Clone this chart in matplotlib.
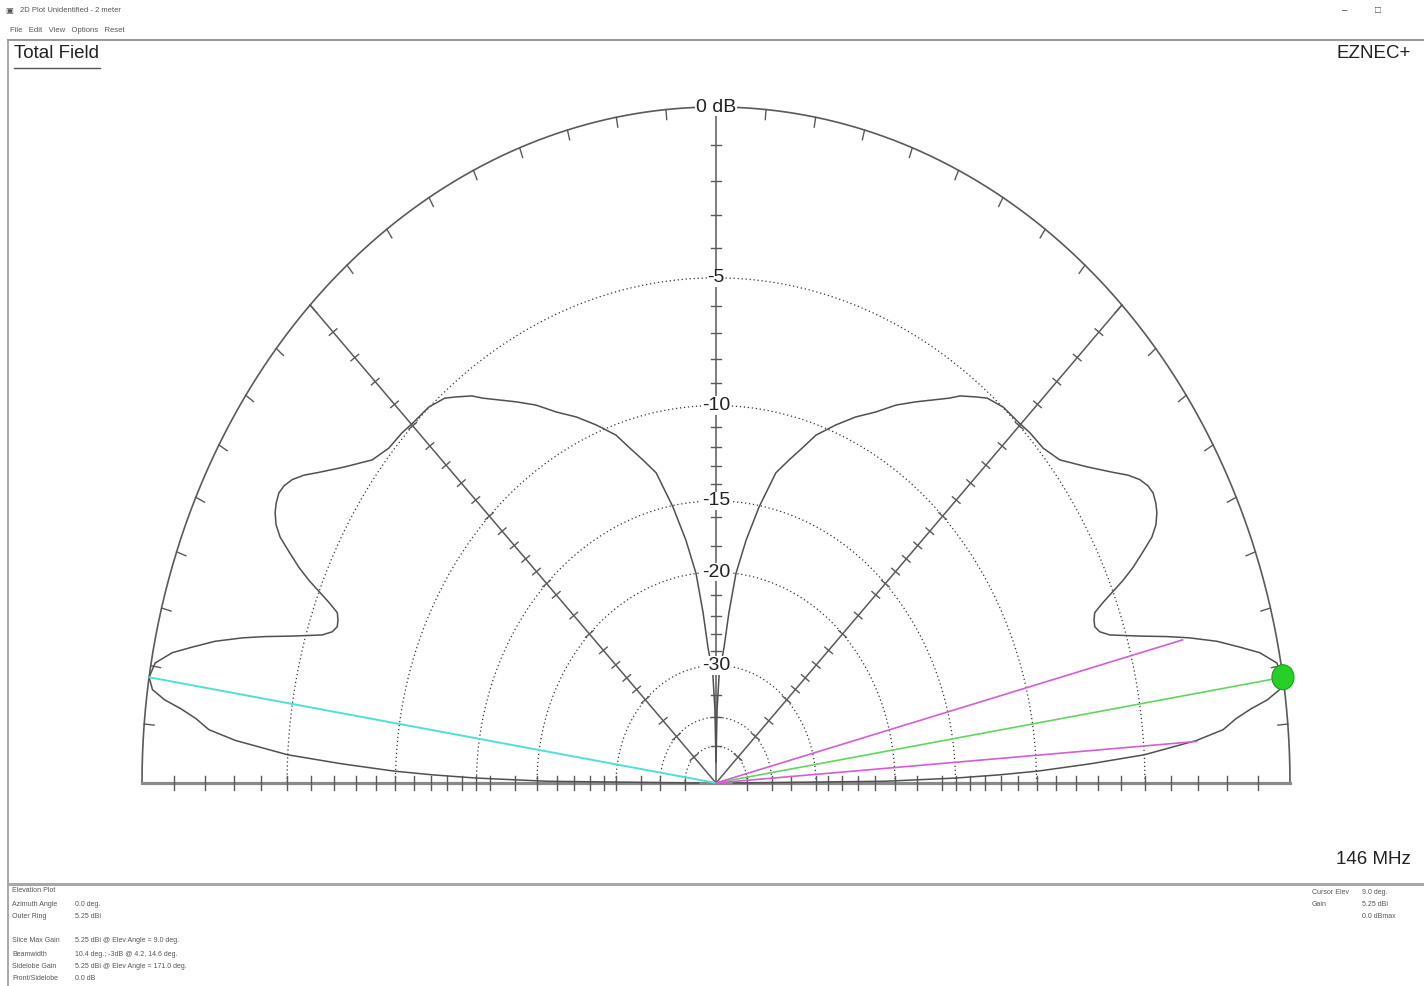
import numpy as np
import matplotlib.pyplot as plt
from matplotlib.patches import Ellipse

plt.rcParams['font.family'] = ['Liberation Sans', 'DejaVu Sans']

# elevation pattern, right half (0-90 deg); dB relative to outer ring (5.25 dBi)
elev_deg = [0.0, 0.5, 1.0, 1.4, 1.8, 2.5, 3.2, 4.3, 5.1, 6.0, 6.7, 7.3, 8.0,
            9.0, 10.3, 11.5, 12.4, 13.5, 14.6, 15.4, 16.4, 17.7, 18.5, 19.3,
            20.1, 20.9, 21.6, 22.9, 23.7, 24.7, 25.6, 26.5, 27.5, 28.4, 29.4,
            30.3, 31.3, 32.4, 33.6, 35.9, 38.6, 41.0, 43.4, 45.4, 48.0, 50.3,
            51.6, 53.4, 54.5, 58.3, 60.7, 63.1, 65.8, 68.5, 71.3, 73.0, 75.1,
            77.2, 79.6, 81.7, 83.6, 84.9, 86.0, 87.0, 88.0, 89.0, 90.0]
gain_db = [-60.0, -21.0, -15.0, -12.1, -9.9, -7.3, -5.0, -3.0, -2.06, -1.6,
           -1.1, -0.55, -0.15, 0.0, -0.12, -0.58, -1.15, -1.85, -2.75, -3.5,
           -4.49, -5.63, -6.0, -6.14, -6.09, -5.97, -5.52, -4.5, -3.97, -3.43,
           -2.95, -2.66, -2.47, -2.37, -2.31, -2.36, -2.51, -2.79, -3.19,
           -3.88, -4.57, -4.82, -4.86, -4.94, -4.98, -5.17, -5.43, -5.8, -6.14,
           -7.06, -7.63, -8.33, -8.95, -9.67, -10.47, -11.24, -12.09, -12.94,
           -15.1, -17.4, -20.0, -23.6, -27.5, -29.5, -31.0, -38.0, -60.0]

ring_db = [-5, -10, -15, -20, -30, -40, -50]
ring_label_db = [0, -5, -10, -15, -20, -30]
ring_labels = ['0 dB', '-5', '-10', '-15', '-20', '-30']
tick_db = list(range(-1, -16, -1)) + list(range(-16, -31, -2)) + [-35, -40, -50]

max_elev = 9.0
side_elev = 171.0
bw_elev = [4.2, 14.6]
bw_db = -3.0

info_left = [('Elevation Plot', ''),
             ('Azimuth Angle', '0.0 deg.'),
             ('Outer Ring', '5.25 dBi'),
             ('Slice Max Gain', '5.25 dBi @ Elev Angle = 9.0 deg.'),
             ('Beamwidth', '10.4 deg.; -3dB @ 4.2, 14.6 deg.'),
             ('Sidelobe Gain', '5.25 dBi @ Elev Angle = 171.0 deg.'),
             ('Front/Sidelobe', '0.0 dB')]
info_right = [('Cursor Elev', '9.0 deg.'), ('Gain', '5.25 dBi'), ('', '0.0 dBmax')]

# screen geometry (pixels) of the stretched plot
W, H = 1424, 986
CX, CY = 716, 783
RX, RY = 574, 676


def rr(db):
    # ARRL log scale: 0.89 per 2 dB
    return 0.89 ** (-np.asarray(db, dtype=float) / 2)


def xy(r, deg):
    t = np.radians(deg)
    return r * np.cos(t), r * np.sin(t)


def ftext(x, y, s, **kw):
    fig.text(x / W, 1 - y / H, s, **kw)


fig = plt.figure(figsize=(W / 100, H / 100), dpi=100)
ax = fig.add_axes([0, 0, 1, 1])
ax.set_xlim(-CX / RX, (W - CX) / RX)
ax.set_ylim((CY - H) / RY, CY / RY)
ax.axis('off')

grid_c = '#5a5a5a'
th = np.linspace(0, 180, 721)

# dotted rings
for d in ring_db:
    ax.plot(*xy(rr(d), th), color='#333333', lw=0.9, ls=(0, (1, 2.2)), zorder=1)

# outer ring and its 5 deg ticks
ax.plot(*xy(1.0, th), color=grid_c, lw=1.2, zorder=2)
for a in range(5, 180, 5):
    if a == 90:
        continue
    px, py = xy(1.0, a)
    k = 10 / np.hypot(RX * px, RY * py)
    ax.plot([px, px * (1 - k)], [py, py * (1 - k)], color=grid_c, lw=1.0, zorder=2)

# radial lines and baseline
for phi in [45, 90, 135]:
    ax.plot(*xy(np.array([0, 1.0]), phi), color=grid_c, lw=1.1, zorder=2)
ax.plot([-1, 1], [0, 0], color='#8a8a8a', lw=2.3, zorder=2)

for phi in [0, 45, 90, 135, 180]:
    t = np.radians(phi)
    ux, uy = RX * np.cos(t), -RY * np.sin(t)
    n = np.hypot(ux, uy)
    nx, ny = -uy / n, ux / n
    L = 7 if phi in (0, 180) else 5
    ox, oy = nx * L / RX, -ny * L / RY
    for d in tick_db:
        px, py = xy(rr(d), phi)
        ax.plot([px - ox, px + ox], [py - oy, py + oy], color=grid_c, lw=1.0, zorder=2)

# ring labels on the vertical axis
for d, s in zip(ring_label_db, ring_labels):
    ax.text(0, rr(d), s, ha='center', va='center', fontsize=14, color='#222222',
            bbox=dict(facecolor='white', edgecolor='none', pad=0.6), zorder=4)

# pattern (symmetric about 90 deg)
e = np.array(elev_deg)
g = np.array(gain_db)
all_e = np.concatenate([e, 180 - e[::-1]])
all_g = np.concatenate([g, g[::-1]])
ax.plot(*xy(rr(all_g), all_e), color='#505050', lw=1.1, zorder=3,
        solid_joinstyle='round')

# max gain, sidelobe and beamwidth lines
ax.plot(*xy(np.array([0, 1.0]), side_elev), color='#4fe0d4', lw=1.4, zorder=5)
ax.plot(*xy(np.array([0, 1.0]), max_elev), color='#5fd65f', lw=1.2, zorder=5)
for b in bw_elev:
    ax.plot(*xy(np.array([0, rr(bw_db)]), b), color='#d55cd5', lw=1.2, zorder=5)
ax.add_patch(Ellipse(xy(1.0, max_elev), 2 * 11 / RX, 2 * 12.5 / RY,
                     facecolor='#26d026', edgecolor='#1c9c1c', lw=0.8, zorder=6))

# window chrome
chrome = '#9a9a9a'
ax.plot([(8 - CX) / RX, (W - CX) / RX], [(CY - 40) / RY] * 2, color=chrome, lw=1.5)
ax.plot([(8 - CX) / RX] * 2, [(CY - 40) / RY, (CY - H) / RY], color=chrome, lw=1.2)
ax.plot([(8 - CX) / RX, (W - CX) / RX], [(CY - 884) / RY] * 2, color='#a8a8a8', lw=2.2)
ax.plot([(14 - CX) / RX, (100 - CX) / RX], [(CY - 68) / RY] * 2, color='#555555', lw=1.0)

ftext(20, 11, '2D Plot Unidentified - 2 meter', fontsize=5.5, color='#555555', va='center')
ftext(5, 11, '\u25a3', fontsize=6, color='#555555', va='center')
ftext(10, 30, 'File   Edit   View   Options   Reset', fontsize=5.5, color='#555555', va='center')
ftext(1345, 10, '\u2013', fontsize=7, color='#444444', va='center', ha='center')
ftext(1378, 10, '\u25a1', fontsize=7, color='#444444', va='center', ha='center')

ftext(14, 53, 'Total Field', fontsize=13.5, color='#222222', va='center')
ftext(1337, 53, 'EZNEC+', fontsize=13.5, color='#222222', va='center')
ftext(1336, 860, '146 MHz', fontsize=13.5, color='#222222', va='center')

rows_y = [891, 904, 916, 941, 954, 966, 979]
for (lab, val), y in zip(info_left, rows_y):
    ftext(12, y, lab, fontsize=5, color='#555555', va='center')
    ftext(75, y, val, fontsize=5, color='#555555', va='center')
for (lab, val), y in zip(info_right, [892, 904, 916]):
    ftext(1312, y, lab, fontsize=5, color='#555555', va='center')
    ftext(1362, y, val, fontsize=5, color='#555555', va='center')

fig.savefig('out.png', dpi=100)
